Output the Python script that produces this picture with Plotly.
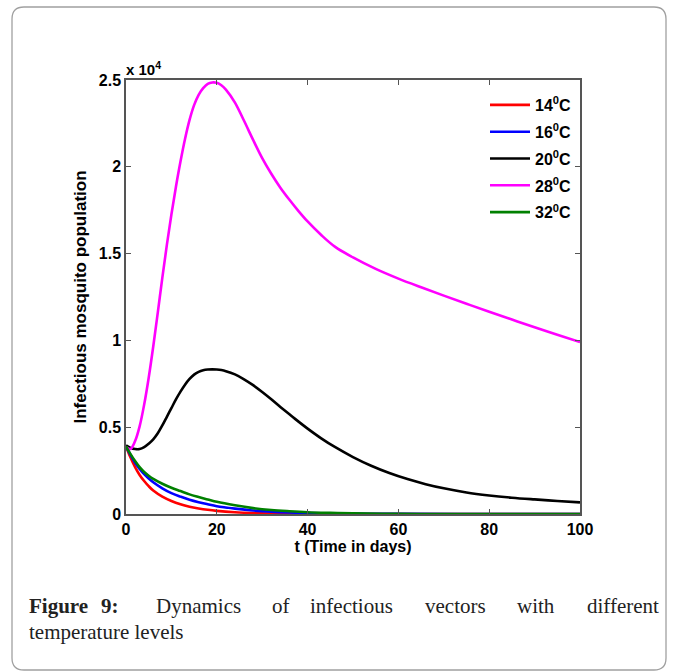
import plotly.graph_objects as go

# ---------------- data (values in mosquitoes; axis shows x 10^4) ----------------
t_14 = [0, 1, 2, 3, 4, 5, 6, 8, 10, 12, 14, 16, 18, 20, 24, 28, 32, 36, 40, 50, 60, 80, 100]
v_14 = [3900, 3250, 2700, 2250, 1900, 1600, 1350, 1000, 750, 560, 420, 320, 240, 180, 100,
        55, 30, 15, 8, 2, 0, 0, 0]

t_16 = [0, 1, 2, 3, 4, 5, 6, 8, 10, 12, 14, 16, 18, 20, 24, 28, 32, 36, 40, 50, 60, 80, 100]
v_16 = [3900, 3400, 2950, 2600, 2300, 2050, 1830, 1480, 1200, 1000, 820, 680, 560, 450, 310,
        200, 130, 85, 55, 20, 5, 0, 0]

t_20 = [0, 1, 2, 3, 4, 5, 6, 7, 8, 9, 10, 11, 12, 13, 14, 15, 16, 17, 18, 19, 20, 21, 22,
        24, 26, 28, 30, 32, 34, 36, 38, 40, 43, 46, 50, 54, 58, 62, 66, 70, 75, 80, 85, 90, 95, 100]
v_20 = [3950, 3800, 3740, 3740, 3850, 4050, 4300, 4650, 5100, 5600, 6100, 6600, 7050, 7450,
        7780, 8030, 8190, 8280, 8320, 8330, 8320, 8290, 8230, 8040, 7760, 7420, 7030, 6610,
        6170, 5740, 5320, 4920, 4360, 3860, 3280, 2780, 2360, 2010, 1720, 1480, 1240, 1070,
        940, 840, 750, 670]

t_28 = [0, 1, 2, 3, 4, 5, 6, 7, 8, 9, 10, 11, 12, 13, 14, 15, 16, 17, 18, 19, 20, 21, 22,
        24, 26, 28, 30, 32, 34, 36, 38, 40, 43, 46, 50, 55, 60, 65, 70, 75, 80, 85, 90, 95, 100]
v_28 = [3850, 3750, 4200, 5050, 6300, 7850, 9650, 11600, 13600, 15500, 17250, 18850, 20300,
        21600, 22700, 23550, 24150, 24530, 24780, 24860, 24840, 24700, 24450, 23700, 22650,
        21550, 20500, 19600, 18800, 18100, 17450, 16850, 16070, 15400, 14780, 14120, 13560,
        13060, 12580, 12110, 11650, 11200, 10760, 10330, 9900]

t_32 = [0, 1, 2, 3, 4, 5, 6, 8, 10, 12, 14, 16, 18, 20, 24, 28, 32, 36, 40, 45, 50, 60, 70, 80, 100]
v_32 = [3900, 3450, 3050, 2700, 2420, 2200, 2020, 1740, 1510, 1320, 1130, 980, 840, 700, 500,
        340, 230, 160, 105, 65, 35, 10, 2, 0, 0]

series_names = ["14<sup>0</sup>C", "16<sup>0</sup>C", "20<sup>0</sup>C", "28<sup>0</sup>C", "32<sup>0</sup>C"]
series_t = [t_14, t_16, t_20, t_28, t_32]
series_v = [v_14, v_16, v_20, v_28, v_32]
series_colors = ["#ff0000", "#0000ff", "#000000", "#ff00ff", "#008000"]

x_ticks = [0, 20, 40, 60, 80, 100]
y_tickvals = [0, 5000, 10000, 15000, 20000, 25000]
y_ticktext = ["0", "0.5", "1", "1.5", "2", "2.5"]

caption_line1 = [("Figure", True), ("9:", True), ("Dynamics", False), ("of", False),
                 ("infectious", False), ("vectors", False), ("with", False), ("different", False)]
caption_line2 = "temperature levels"

# ---------------- layout geometry ----------------
W, H = 677, 671
L, R, T, B = 126, 580, 80, 514  # plot area in pixels


def px(x):
    return (x - L) / (R - L)


def py(y):
    return (B - y) / (B - T)


fig = go.Figure()
for name, tt, vv, col in zip(series_names, series_t, series_v, series_colors):
    fig.add_trace(go.Scatter(x=tt, y=vv, mode="lines", name=name,
                             line=dict(color=col, width=2.6, shape="spline", smoothing=1.0),
                             legendgroup=name))

axis_font = dict(family="Liberation Sans, Arial", size=16, color="#000", weight="bold")
fig.update_xaxes(range=[0, 100], tickvals=x_ticks, ticks="inside", ticklen=5,
                 tickcolor="#555", showline=True, linecolor="#555", linewidth=1.5,
                 mirror="ticks", showgrid=False, zeroline=False, tickfont=axis_font,
                 title=dict(text="t (Time in days)",
                            font=dict(family="Liberation Sans, Arial", size=16, color="#000", weight="bold"),
                            standoff=3))
fig.update_yaxes(range=[0, 25000], tickvals=y_tickvals, ticktext=y_ticktext, ticks="inside",
                 ticklen=5, tickcolor="#555", showline=True, linecolor="#555", linewidth=1.5,
                 mirror="ticks", showgrid=False, zeroline=False, tickfont=axis_font,
                 title=dict(text="Infectious mosquito population",
                            font=dict(family="Liberation Sans, Arial", size=17, color="#000", weight="bold"),
                            standoff=8))

annotations = [
    dict(text="x 10<sup>4</sup>", xref="paper", yref="paper", x=px(124), y=py(80),
         xanchor="left", yanchor="bottom", showarrow=False,
         font=dict(family="Liberation Sans, Arial", size=15, color="#000", weight="bold")),
]
word_x = [27, 99, 154, 270, 308, 423, 515, 661]
for (w, bold), wx in zip(caption_line1, word_x):
    annotations.append(dict(text=w, xref="paper", yref="paper", x=px(wx), y=py(606),
                            xanchor="right" if w == "different" else "left", yanchor="middle",
                            showarrow=False,
                            font=dict(family="Liberation Serif, DejaVu Serif, serif", size=21,
                                      color="#222", weight="bold" if bold else "normal")))
annotations.append(dict(text=caption_line2, xref="paper", yref="paper", x=px(27), y=py(632),
                        xanchor="left", yanchor="middle", showarrow=False,
                        font=dict(family="Liberation Serif, DejaVu Serif, serif", size=21, color="#222")))

# rounded outer frame
x0, x1, y0, y1, r = px(12), px(666), py(7), py(670), 12
rx, ry = r / (R - L), r / (B - T)
path = (f"M {x0 + rx} {y0} L {x1 - rx} {y0} Q {x1} {y0} {x1} {y0 - ry} "
        f"L {x1} {y1 + ry} Q {x1} {y1} {x1 - rx} {y1} L {x0 + rx} {y1} "
        f"Q {x0} {y1} {x0} {y1 + ry} L {x0} {y0 - ry} Q {x0} {y0} {x0 + rx} {y0} Z")

fig.update_layout(
    width=W, height=H, autosize=False,
    margin=dict(l=L, r=W - R, t=T, b=H - B),
    paper_bgcolor="white", plot_bgcolor="white",
    showlegend=True,
    legend=dict(x=px(485), y=py(88), xanchor="left", yanchor="top", bgcolor="rgba(255,255,255,0)",
                borderwidth=0, tracegroupgap=3, itemwidth=40,
                font=dict(family="Liberation Sans, Arial", size=16, color="#000", weight="bold")),
    annotations=annotations,
    shapes=[dict(type="path", path=path, xref="paper", yref="paper",
                 line=dict(color="#a0a0a0", width=1.3), layer="below")],
)

fig.write_html("out.html")
